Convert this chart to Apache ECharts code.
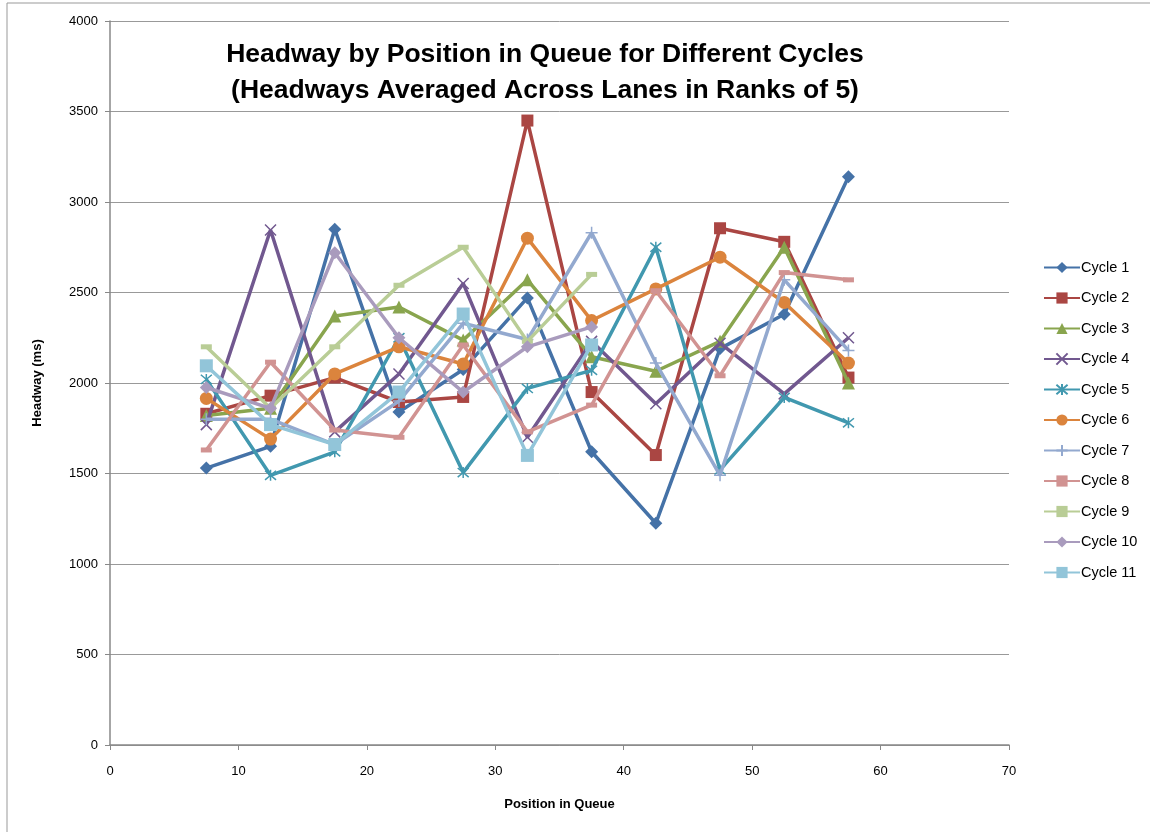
<!DOCTYPE html>
<html>
<head>
<meta charset="utf-8">
<script src="https://cdn.jsdelivr.net/npm/echarts@6/dist/echarts.min.js"></script>
<style>
  html, body { margin: 0; padding: 0; background: #fff; }
  #chart { width: 1150px; height: 832px; }
</style>
</head>
<body>
<div id="chart"></div>
<script>
// positions in queue (rank midpoints)
const positions = [7.5, 12.5, 17.5, 22.5, 27.5, 32.5, 37.5, 42.5, 47.5, 52.5, 57.5]

const cycle1 = [1530, 1650, 2850, 1840, 2075, 2470, 1620, 1225, 2190, 2380, 3140]
const cycle2 = [1830, 1930, 2030, 1895, 1923, 3450, 1950, 1602, 2855, 2780, 2030]
const cycle3 = [1820, 1860, 2370, 2420, 2237, 2570, 2145, 2065, 2230, 2750, 2000]
const cycle4 = [1770, 2845, 1730, 2050, 2550, 1700, 2230, 1885, 2220, 1940, 2250]
const cycle5 = [2020, 1490, 1620, 2250, 1505, 1970, 2070, 2750, 1520, 1920, 1780]
const cycle6 = [1915, 1690, 2050, 2200, 2105, 2800, 2345, 2520, 2695, 2445, 2110]
const cycle7 = [1800, 1800, 1660, 1900, 2330, 2240, 2830, 2110, 1490, 2570, 2180]
const cycle8 = [1630, 2115, 1740, 1700, 2210, 1730, 1878, 2510, 2040, 2610, 2570]
const cycle9 = [2200, 1860, 2200, 2540, 2750, 2230, 2600]
const cycle10 = [1975, 1860, 2720, 2250, 1950, 2200, 2310]
const cycle11 = [2095, 1770, 1660, 1950, 2381, 1600, 2210]

const cycleNames = ['Cycle 1', 'Cycle 2', 'Cycle 3', 'Cycle 4', 'Cycle 5', 'Cycle 6',
  'Cycle 7', 'Cycle 8', 'Cycle 9', 'Cycle 10', 'Cycle 11']
const cycleValues = [cycle1, cycle2, cycle3, cycle4, cycle5, cycle6,
  cycle7, cycle8, cycle9, cycle10, cycle11]

const yTicks = [0, 500, 1000, 1500, 2000, 2500, 3000, 3500, 4000]
const xTicks = [0, 10, 20, 30, 40, 50, 60, 70]

const colors = ['#4572A7', '#AA4643', '#89A54E', '#71588F', '#4198AF', '#DB843D',
  '#93A9CF', '#D19392', '#B9CD96', '#A99BBD', '#92C5D9']

// excel-ish marker shapes
const X_MARK = 'path://M0,0L10,10M10,0L0,10'
const STAR_MARK = 'path://M0,0L10,10M10,0L0,10M5,-1L5,11'
const PLUS_MARK = 'path://M5,0L5,10M0,5L10,5'

const markers = [
  { symbol: 'diamond', size: 13 },
  { symbol: 'rect', size: 12 },
  { symbol: 'triangle', size: 13 },
  { symbol: X_MARK, size: 11, stroke: true },
  { symbol: STAR_MARK, size: 11, stroke: true },
  { symbol: 'circle', size: 13 },
  { symbol: PLUS_MARK, size: 12, stroke: true },
  { symbol: 'rect', size: [11, 5] },
  { symbol: 'rect', size: [11, 5] },
  { symbol: 'diamond', size: 13 },
  { symbol: 'rect', size: 13 },
]

const font = "'Liberation Sans', Arial, sans-serif"

const chart = echarts.init(document.getElementById('chart'))

const series = cycleNames.map((name, i) => {
  const m = markers[i]
  return {
    name,
    type: 'line',
    data: cycleValues[i].map((v, j) => [positions[j], v]),
    symbol: m.symbol,
    symbolSize: m.size,
    showAllSymbol: true,
    lineStyle: { width: 3.5, color: colors[i] },
    itemStyle: m.stroke
      ? { color: colors[i], borderColor: colors[i], borderWidth: 1.5 }
      : { color: colors[i] },
    emphasis: { disabled: true },
    z: 2 + i,
  }
})

chart.setOption({
  backgroundColor: '#fff',
  animation: false,
  title: {
    text: 'Headway by Position in Queue for Different Cycles\n(Headways Averaged Across Lanes in Ranks of 5)',
    left: 540,
    top: 32,
    textAlign: 'center',
    textStyle: {
      fontFamily: font,
      fontSize: 26.5,
      fontWeight: 'bold',
      color: '#000',
      lineHeight: 36,
    },
  },
  legend: {
    orient: 'vertical',
    left: 1038,
    top: 255,
    itemWidth: 36,
    itemHeight: 14,
    itemGap: 15.5,
    textStyle: { fontFamily: font, fontSize: 14.5, color: '#000', padding: [0, 0, 0, -4] },
    data: cycleNames,
  },
  grid: { left: 110, right: 141, top: 21, bottom: 87 },
  xAxis: {
    type: 'value',
    min: xTicks[0],
    max: xTicks[xTicks.length - 1],
    interval: 10,
    name: 'Position in Queue',
    nameLocation: 'middle',
    nameGap: 53,
    nameTextStyle: { fontFamily: font, fontSize: 13, fontWeight: 'bold', color: '#000' },
    axisLine: { show: true, lineStyle: { color: '#888', width: 1.5 } },
    axisTick: { show: true, inside: false, length: 5, lineStyle: { color: '#888' } },
    axisLabel: { fontFamily: font, fontSize: 13, color: '#000', margin: 20 },
    splitLine: { show: false },
  },
  yAxis: {
    type: 'value',
    min: yTicks[0],
    max: yTicks[yTicks.length - 1],
    interval: 500,
    name: 'Headway (ms)',
    nameLocation: 'middle',
    nameGap: 66,
    nameTextStyle: { fontFamily: font, fontSize: 13, fontWeight: 'bold', color: '#000' },
    axisLine: { show: true, lineStyle: { color: '#888', width: 1.5 } },
    axisTick: { show: true, inside: false, length: 5, lineStyle: { color: '#888' } },
    axisLabel: { fontFamily: font, fontSize: 13, color: '#000', margin: 12, formatter: (v) => String(v) },
    splitLine: { show: true, lineStyle: { color: '#999', width: 1 } },
  },
  graphic: [
    {
      type: 'rect',
      shape: { x: 7, y: 3, width: 1160, height: 850 },
      style: { fill: 'none', stroke: '#999', lineWidth: 1 },
      silent: true,
      z: -1,
    },
  ],
  series,
})
</script>
</body>
</html>
